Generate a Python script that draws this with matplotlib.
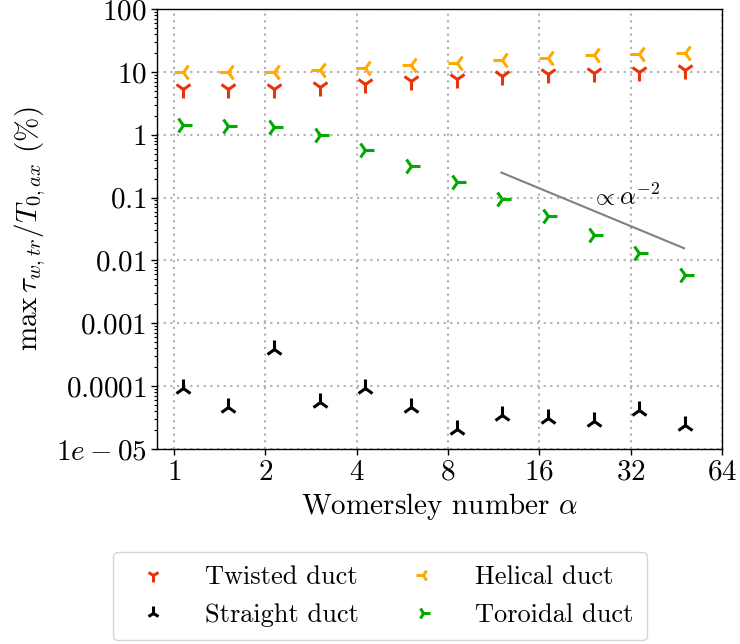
import matplotlib
matplotlib.use("Agg")
import matplotlib.pyplot as plt
from matplotlib.ticker import FixedLocator, FixedFormatter, LogLocator, NullFormatter, NullLocator

plt.rcParams["font.family"] = ["cmr10", "DejaVu Serif"]
plt.rcParams["mathtext.fontset"] = "cm"
plt.rcParams["axes.formatter.use_mathtext"] = True

# Womersley numbers of the simulated cases
alpha = [1.07, 1.51, 2.14, 3.02, 4.27, 6.04, 8.54, 12.1, 17.1, 24.2, 34.2, 48.3]

# max transverse wall shear stress relative to axial (%)
twisted = [5.3, 5.3, 5.3, 5.8, 6.4, 7.2, 7.8, 8.6, 9.4, 9.7, 10.1, 10.6]
straight = [9.5e-5, 4.6e-5, 3.85e-4, 5.5e-5, 9.5e-5, 4.6e-5, 2.1e-5, 3.45e-5,
            3.1e-5, 2.8e-5, 4.1e-5, 2.4e-5]
helical = [9.8, 9.8, 10.0, 10.6, 11.4, 12.8, 14.0, 15.5, 16.8, 18.4, 19.4, 20.2]
toroidal = [1.44, 1.40, 1.32, 1.0, 0.58, 0.316, 0.175, 0.095, 0.050, 0.0258,
            0.0129, 0.0059]

# reference slope  ~ alpha^-2
slope_alpha = [12.0, 48.0]
slope_value = [0.25, 0.25 * (12.0 / 48.0) ** 2]

x_ticks = [1, 2, 4, 8, 16, 32, 64]
x_labels = ["$1$", "$2$", "$4$", "$8$", "$16$", "$32$", "$64$"]
y_ticks = [1e-5, 1e-4, 1e-3, 1e-2, 1e-1, 1, 10, 100]
y_labels = ["$1e-05$", "$0.0001$", "$0.001$", "$0.01$", "$0.1$", "$1$", "$10$", "$100$"]

fig = plt.figure(figsize=(7.4, 6.44), dpi=100)
ax = fig.add_axes([157 / 740, 1 - 449 / 644, (722 - 157) / 740, (449 - 9) / 644])

mk = dict(linestyle="none", markersize=13, markeredgewidth=2.2)
ax.plot(alpha, twisted, marker="1", color="#e8340c", label="Twisted duct", **mk)
ax.plot(alpha, straight, marker="2", color="black", label="Straight duct", **mk)
ax.plot(alpha, helical, marker="3", color="#ffaa00", label="Helical duct", **mk)
ax.plot(alpha, toroidal, marker="4", color="#00aa00", label="Toroidal duct", **mk)

ax.plot(slope_alpha, slope_value, color="gray", lw=1.5)
ax.text(23.6, 0.105, r"$\propto\alpha^{-2}$", fontsize=18, va="center", ha="left")

ax.set_xscale("log", base=2)
ax.set_yscale("log")
ax.set_xlim(0.88, 64)
ax.set_ylim(1e-5, 100)

ax.xaxis.set_major_locator(FixedLocator(x_ticks))
ax.xaxis.set_major_formatter(FixedFormatter(x_labels))
ax.xaxis.set_minor_locator(NullLocator())
ax.yaxis.set_major_locator(FixedLocator(y_ticks))
ax.yaxis.set_major_formatter(FixedFormatter(y_labels))
ax.yaxis.set_minor_locator(LogLocator(base=10, subs=range(2, 10), numticks=20))
ax.yaxis.set_minor_formatter(NullFormatter())

ax.tick_params(axis="both", which="major", labelsize=21, length=4, width=1, direction="out")
ax.tick_params(axis="y", which="minor", length=2.5, width=0.8, direction="out")

ax.grid(True, which="major", linestyle=(0, (1, 2.2)), color="#b0b0b0", lw=1.5)
ax.set_axisbelow(True)
for s in ax.spines.values():
    s.set_linewidth(1.0)

ax.set_xlabel(r"Womersley number $\alpha$", fontsize=21, labelpad=4)
ax.set_ylabel(r"$\max\,\tau_{w,tr}/T_{0,ax}$ (%)", fontsize=21, labelpad=6)

leg = fig.legend(*ax.get_legend_handles_labels(), loc="upper left",
                 bbox_to_anchor=(113 / 740, 1 - 552 / 644), bbox_transform=fig.transFigure,
                 ncol=2, fontsize=19, frameon=True, fancybox=True, edgecolor="#cccccc",
                 borderaxespad=0, borderpad=0.5, handlelength=2.0, handletextpad=1.0,
                 columnspacing=1.4, labelspacing=0.55, markerscale=0.75)
leg.get_frame().set_linewidth(1.0)

fig.savefig("out.png", dpi=100)
